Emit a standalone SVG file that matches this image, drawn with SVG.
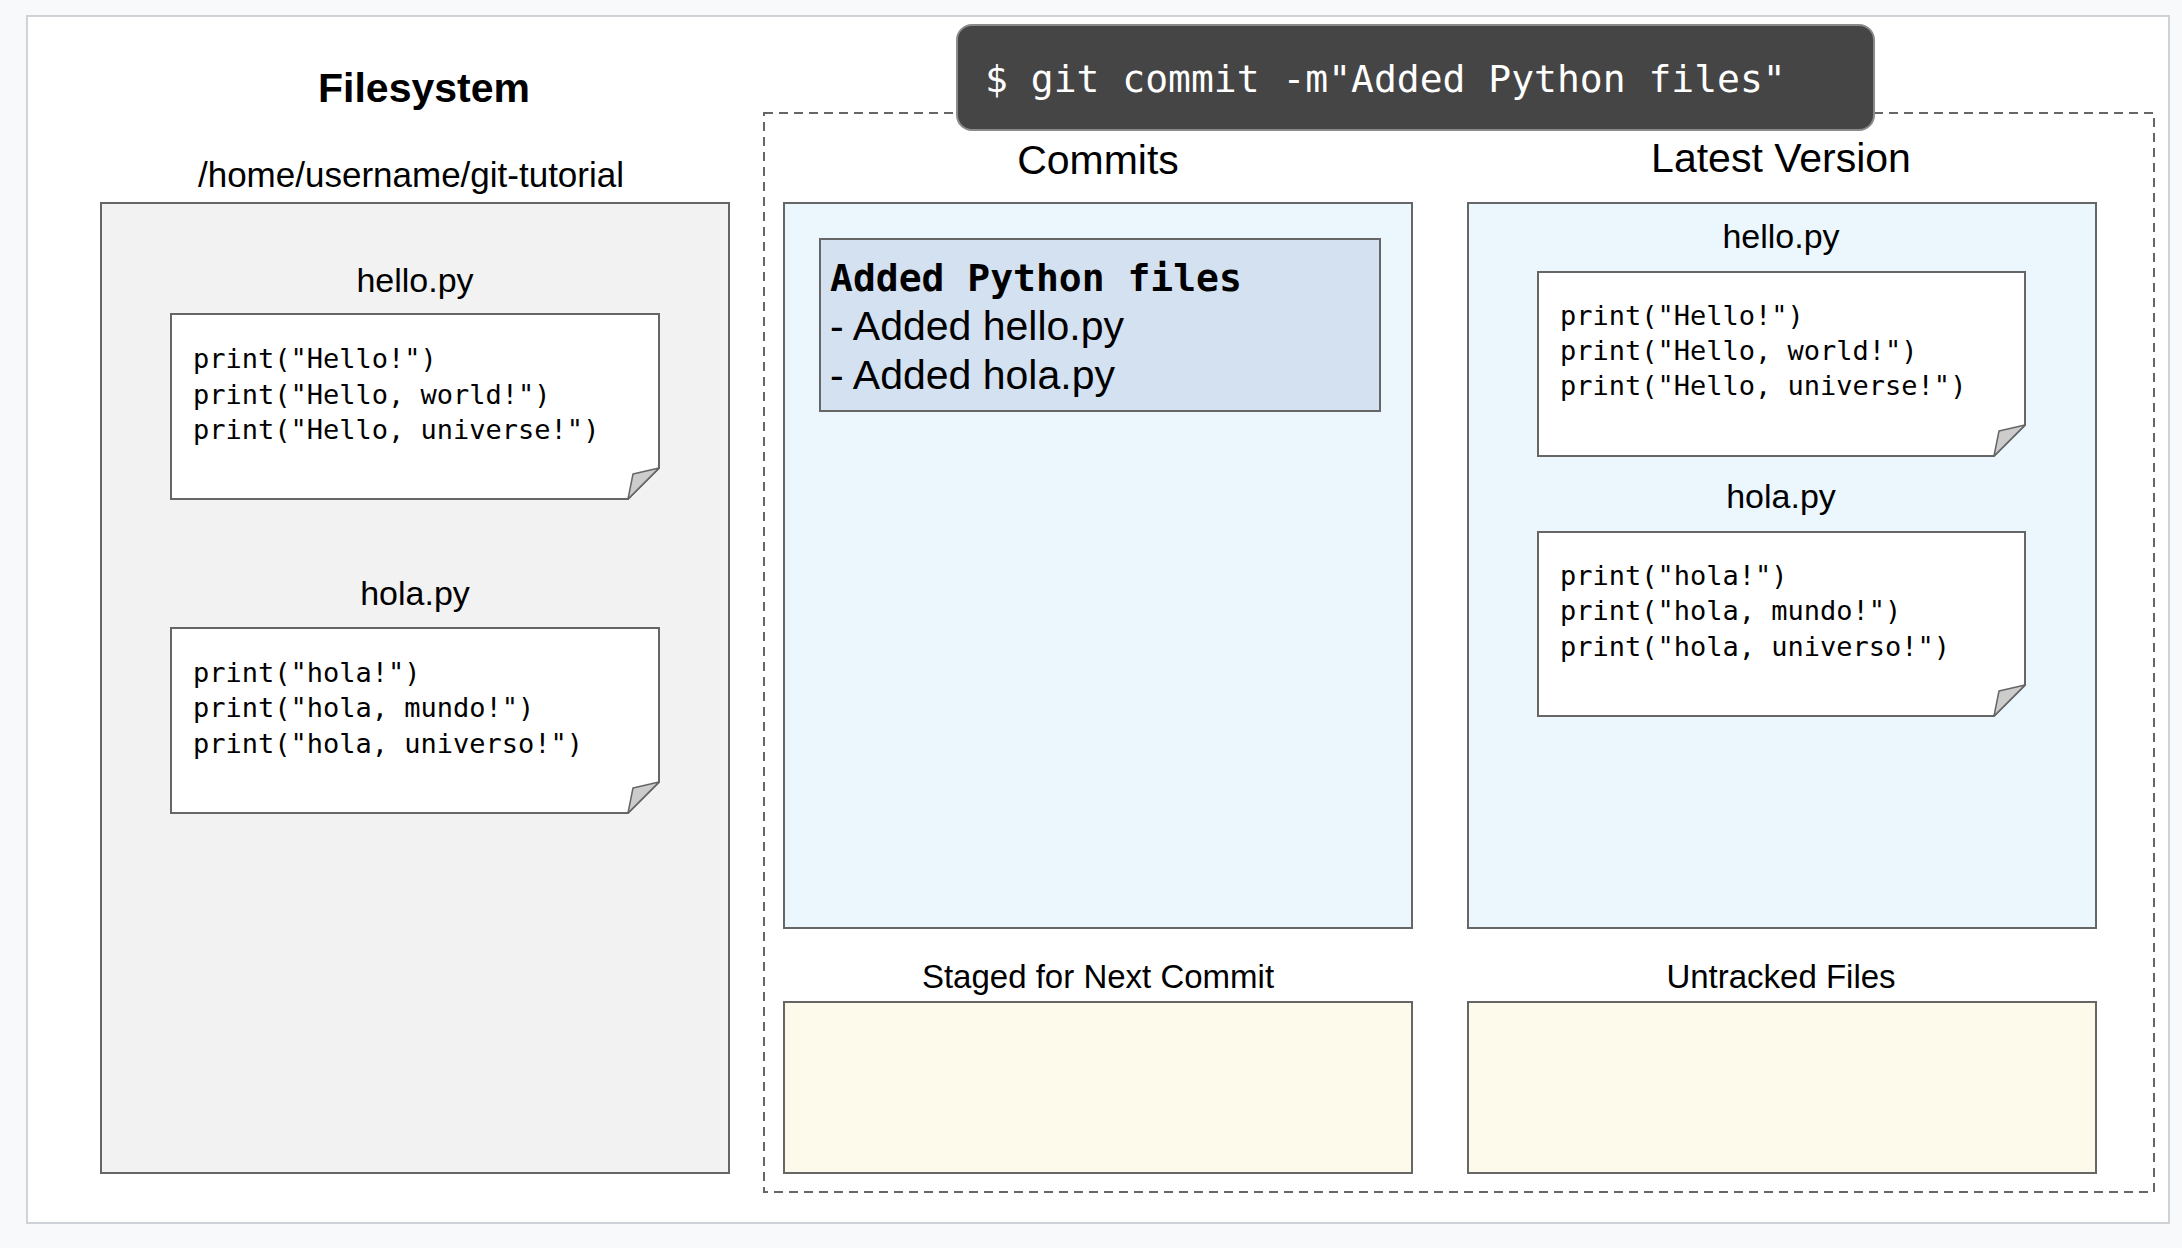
<svg xmlns="http://www.w3.org/2000/svg" width="2182" height="1248" viewBox="0 0 2182 1248">
  <style>
    .lbl { font-family: "Liberation Sans", Arial, sans-serif; fill: #000; text-anchor: middle; }
    .code { font-family: "DejaVu Sans Mono", "Liberation Mono", monospace; font-size: 27px; fill: #000; }
    .box { stroke: #666; stroke-width: 2; }
    .note { fill: #fff; stroke: #666; stroke-width: 2; }
    .fold { fill: #ccc; stroke: #666; stroke-width: 1.5; stroke-linejoin: round; }
  </style>
  <rect x="0" y="0" width="2182" height="1248" fill="#f7f9fb"/>
  <rect id="panel" x="27" y="16" width="2142" height="1207" fill="#fff" stroke="#cfd2d6" stroke-width="2"/>

  <g id="filesystem">
    <text class="lbl" x="424" y="102" font-size="41" font-weight="bold">Filesystem</text>
    <text class="lbl" x="411" y="187" font-size="35">/home/username/git-tutorial</text>
    <rect class="box" x="101" y="203" width="628" height="970" fill="#f2f2f2"/>
  </g>

  <g id="fs-hello">
    <text class="lbl" x="415" y="292" font-size="34">hello.py</text>
    <path class="note" d="M171,314 H659 V468 L628,499 H171 Z"/>
    <path class="fold" d="M659,468 L633,474 L628,499 Z"/>
    <text class="code" x="193" y="368">print("Hello!")</text>
    <text class="code" x="193" y="404">print("Hello, world!")</text>
    <text class="code" x="193" y="439">print("Hello, universe!")</text>
  </g>

  <g id="fs-hola">
    <text class="lbl" x="415" y="605" font-size="34">hola.py</text>
    <path class="note" d="M171,628 H659 V782 L628,813 H171 Z"/>
    <path class="fold" d="M659,782 L633,788 L628,813 Z"/>
    <text class="code" x="193" y="682">print("hola!")</text>
    <text class="code" x="193" y="717">print("hola, mundo!")</text>
    <text class="code" x="193" y="753">print("hola, universo!")</text>
  </g>

  <g id="repository">
    <rect x="764" y="113" width="1390" height="1079" fill="none" stroke="#666" stroke-width="2" stroke-dasharray="9 6"/>
  </g>

  <g id="command">
    <rect x="957" y="25" width="917" height="105" rx="15" ry="15" fill="#454545" stroke="#8a8a8a" stroke-width="2"/>
    <text x="985" y="92" font-family="DejaVu Sans Mono, Liberation Mono, monospace" font-size="38" fill="#fff">$ git commit -m"Added Python files"</text>
  </g>

  <g id="commits">
    <text class="lbl" x="1098" y="174" font-size="41">Commits</text>
    <rect class="box" x="784" y="203" width="628" height="725" fill="#ecf7fd"/>
  </g>

  <g id="commit-1">
    <rect class="box" x="820" y="239" width="560" height="172" fill="#d4e1f0"/>
    <text x="830" y="291" font-family="DejaVu Sans Mono, Liberation Mono, monospace" font-size="38" font-weight="bold" fill="#000">Added Python files</text>
    <text x="830" y="340" font-family="Liberation Sans, Arial, sans-serif" font-size="41" fill="#000">- Added hello.py</text>
    <text x="830" y="389" font-family="Liberation Sans, Arial, sans-serif" font-size="41" fill="#000">- Added hola.py</text>
  </g>

  <g id="latest-version">
    <text class="lbl" x="1781" y="172" font-size="41">Latest Version</text>
    <rect class="box" x="1468" y="203" width="628" height="725" fill="#ecf7fd"/>
  </g>

  <g id="lv-hello">
    <text class="lbl" x="1781" y="248" font-size="34">hello.py</text>
    <path class="note" d="M1538,272 H2025 V425 L1994,456 H1538 Z"/>
    <path class="fold" d="M2025,425 L1999,431 L1994,456 Z"/>
    <text class="code" x="1560" y="325">print("Hello!")</text>
    <text class="code" x="1560" y="360">print("Hello, world!")</text>
    <text class="code" x="1560" y="395">print("Hello, universe!")</text>
  </g>

  <g id="lv-hola">
    <text class="lbl" x="1781" y="508" font-size="34">hola.py</text>
    <path class="note" d="M1538,532 H2025 V685 L1994,716 H1538 Z"/>
    <path class="fold" d="M2025,685 L1999,691 L1994,716 Z"/>
    <text class="code" x="1560" y="585">print("hola!")</text>
    <text class="code" x="1560" y="620">print("hola, mundo!")</text>
    <text class="code" x="1560" y="656">print("hola, universo!")</text>
  </g>

  <g id="staged">
    <text class="lbl" x="1098" y="988" font-size="33">Staged for Next Commit</text>
    <rect class="box" x="784" y="1002" width="628" height="171" fill="#fdfaec"/>
  </g>

  <g id="untracked">
    <text class="lbl" x="1781" y="988" font-size="33">Untracked Files</text>
    <rect class="box" x="1468" y="1002" width="628" height="171" fill="#fdfaec"/>
  </g>

  <g id="connectors"></g>
</svg>
